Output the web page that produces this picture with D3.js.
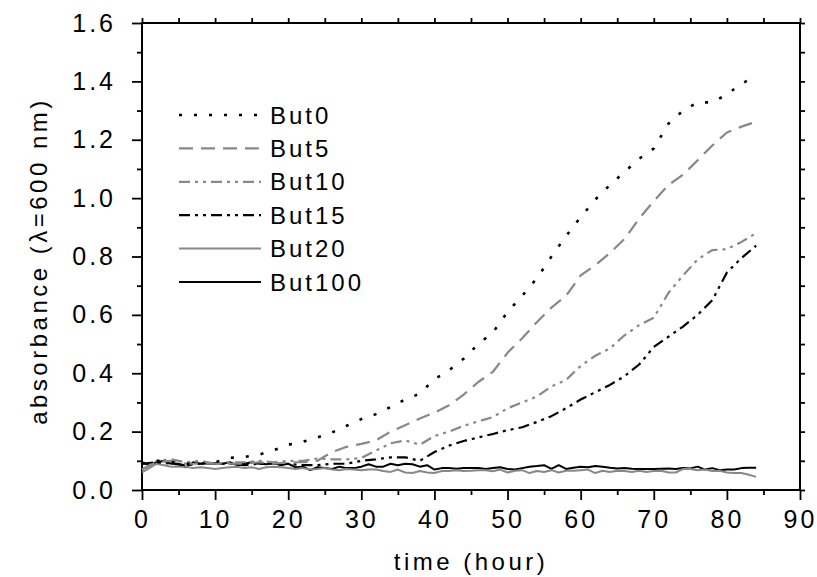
<!DOCTYPE html>
<html lang="en">
<head>
<meta charset="utf-8">
<title>absorbance vs time</title>
<script src="https://d3js.org/d3.v7.min.js"></script>
<style>
  body { margin: 0; background: #fff; }
  text { font-family: "Liberation Sans", Arial, sans-serif; fill: #000; }
</style>
</head>
<body>
<script>
var w = 817, h = 577;

// time grid for the smooth curves (every 2 h) and for the noisy ones (every 1 h)
var hours2 = [0,2,4,6,8,10,12,14,16,18,20,22,24,26,28,30,32,34,36,38,40,42,
              44,46,48,50,52,54,56,58,60,62,64,66,68,70,72,74,76,78,80,82,84];
var hours1 = [0,1,2,3,4,5,6,7,8,9,10,11,12,13,14,15,16,17,18,19,20,21,22,23,24,25,26,27,28,29,
              30,31,32,33,34,35,36,37,38,39,40,41,42,43,44,45,46,47,48,49,50,51,52,53,54,55,56,57,58,59,
              60,61,62,63,64,65,66,67,68,69,70,71,72,73,74,75,76,77,78,79,80,81,82,83,84];

var but0  = [0.09,0.10,0.095,0.09,0.09,0.095,0.11,0.113,0.121,0.136,0.155,0.165,0.18,0.197,0.22,0.243,
             0.26,0.284,0.31,0.33,0.38,0.41,0.45,0.50,0.54,0.61,0.665,0.725,0.80,0.87,0.935,0.995,
             1.045,1.09,1.135,1.17,1.255,1.30,1.328,1.328,1.355,1.392,1.418];
var but5  = [0.07,0.095,0.10,0.09,0.09,0.09,0.09,0.09,0.095,0.09,0.095,0.095,0.10,0.13,0.148,0.158,
             0.17,0.20,0.222,0.245,0.265,0.29,0.327,0.37,0.405,0.47,0.52,0.575,0.625,0.665,0.735,0.77,
             0.812,0.86,0.93,0.99,1.045,1.08,1.13,1.18,1.225,1.245,1.262];
var but10 = [0.07,0.10,0.105,0.095,0.10,0.09,0.095,0.095,0.10,0.095,0.10,0.10,0.108,0.105,0.105,0.11,
             0.135,0.16,0.17,0.155,0.185,0.20,0.22,0.235,0.25,0.28,0.30,0.32,0.355,0.377,0.425,0.46,
             0.485,0.53,0.565,0.59,0.675,0.735,0.79,0.822,0.825,0.85,0.88];
var but15 = [0.09,0.095,0.09,0.085,0.09,0.09,0.09,0.085,0.09,0.09,0.09,0.085,0.085,0.09,0.09,0.10,
             0.105,0.112,0.112,0.10,0.13,0.152,0.168,0.18,0.192,0.205,0.215,0.233,0.253,0.28,0.31,0.335,
             0.36,0.39,0.43,0.49,0.525,0.56,0.60,0.65,0.745,0.795,0.837];
var but20 = [0.06,0.075,0.09,0.085,0.08,0.08,0.08,0.075,0.078,0.075,0.072,0.075,0.078,0.08,0.075,0.078,
             0.072,0.078,0.08,0.078,0.075,0.072,0.075,0.07,0.072,0.075,0.07,0.068,0.072,0.07,0.068,0.07,
             0.07,0.065,0.062,0.07,0.06,0.058,0.065,0.06,0.058,0.065,0.065,0.068,0.065,0.066,0.068,0.068,
             0.064,0.07,0.06,0.066,0.068,0.058,0.065,0.062,0.068,0.06,0.066,0.066,0.068,0.07,0.058,0.066,
             0.062,0.066,0.065,0.062,0.066,0.062,0.065,0.066,0.06,0.06,0.072,0.072,0.068,0.07,0.065,0.066,
             0.06,0.058,0.058,0.052,0.045];
var but100 = [0.095,0.085,0.095,0.10,0.09,0.09,0.078,0.095,0.09,0.092,0.092,0.09,0.095,0.085,0.09,0.095,
              0.09,0.088,0.092,0.085,0.09,0.078,0.08,0.068,0.078,0.075,0.072,0.08,0.075,0.075,0.08,0.088,
              0.08,0.08,0.09,0.085,0.09,0.088,0.08,0.085,0.07,0.075,0.075,0.073,0.075,0.075,0.075,0.072,
              0.075,0.078,0.072,0.07,0.075,0.08,0.082,0.085,0.072,0.085,0.072,0.076,0.08,0.078,0.082,0.08,
              0.076,0.074,0.075,0.073,0.072,0.072,0.072,0.073,0.074,0.072,0.075,0.074,0.08,0.07,0.075,0.068,
              0.07,0.07,0.075,0.076,0.076];

var names = ["But0", "But5", "But10", "But15", "But20", "But100"];

var series = [
  {name: names[0], t: hours2, v: but0,  color: "#000",    dash: "3 12",  width: 2.6},
  {name: names[1], t: hours2, v: but5,  color: "#888",    dash: "14 8",  width: 2.2},
  {name: names[2], t: hours2, v: but10, color: "#888",    dash: "11 5 3 5 3 5", width: 2.2},
  {name: names[3], t: hours2, v: but15, color: "#000",    dash: "11 5 3 5 3 5", width: 2.2},
  {name: names[4], t: hours1, v: but20, color: "#888",    dash: null,    width: 2},
  {name: names[5], t: hours1, v: but100, color: "#000",   dash: null,    width: 2}
];

var x = d3.scaleLinear().domain([0, 90]).range([142, 800]);
var y = d3.scaleLinear().domain([0, 1.6]).range([490, 23]);

var svg = d3.select("body").append("svg")
    .attr("width", w)
    .attr("height", h);

// minor ticks first
svg.append("g")
    .attr("transform", "translate(0,490)")
    .call(d3.axisBottom(x).tickValues(d3.range(5, 90, 10)).tickSize(5).tickFormat(""))
    .call(function (g) { g.select(".domain").remove(); });
svg.append("g")
    .attr("transform", "translate(0,23)")
    .call(d3.axisTop(x).tickValues(d3.range(0, 91, 5)).tickSize(5).tickFormat(""))
    .call(function (g) { g.select(".domain").remove(); });
svg.append("g")
    .attr("transform", "translate(800,0)")
    .call(d3.axisRight(y).tickValues(d3.range(0, 1.61, 0.1)).tickSize(5).tickFormat(""))
    .call(function (g) { g.select(".domain").remove(); });
svg.append("g")
    .attr("transform", "translate(142,0)")
    .call(d3.axisLeft(y).tickValues(d3.range(0.1, 1.6, 0.2)).tickSize(5).tickFormat(""))
    .call(function (g) { g.select(".domain").remove(); });

// major ticks with labels
var xAxis = svg.append("g")
    .attr("transform", "translate(0,490)")
    .call(d3.axisBottom(x).tickValues(d3.range(0, 91, 10)).tickSize(10).tickPadding(10));
xAxis.select(".domain").remove();
xAxis.selectAll("text")
    .attr("font-size", 25)
    .attr("font-family", null)
    .attr("letter-spacing", "3px");

var yAxis = svg.append("g")
    .attr("transform", "translate(142,0)")
    .call(d3.axisLeft(y).tickValues(d3.range(0, 1.61, 0.2)).tickSize(10).tickPadding(16)
          .tickFormat(d3.format(".1f")));
yAxis.select(".domain").remove();
yAxis.selectAll("text")
    .attr("font-size", 25)
    .attr("font-family", null)
    .attr("letter-spacing", "3px");

svg.selectAll(".tick line").attr("stroke", "#000").attr("stroke-width", 1.8);

// frame
svg.append("rect")
    .attr("x", x(0)).attr("y", y(1.6))
    .attr("width", x(90) - x(0)).attr("height", y(0) - y(1.6))
    .attr("fill", "none").attr("stroke", "#000").attr("stroke-width", 2);

var line = d3.line()
    .x(function (d) { return x(d[0]); })
    .y(function (d) { return y(d[1]); });

svg.append("g").selectAll("path")
    .data(series.slice().reverse())
    .enter().append("path")
    .attr("d", function (s) { return line(d3.zip(s.t, s.v)); })
    .attr("fill", "none")
    .attr("stroke", function (s) { return s.color; })
    .attr("stroke-width", function (s) { return s.width; })
    .attr("stroke-dasharray", function (s) { return s.dash; })
    .attr("stroke-linejoin", "round");

// legend
var legend = svg.append("g").selectAll("g")
    .data(series)
    .enter().append("g")
    .attr("transform", function (s, i) { return "translate(0," + (115 + i * 33.4) + ")"; });

legend.append("line")
    .attr("x1", 179).attr("x2", 261)
    .attr("stroke", function (s) { return s.color; })
    .attr("stroke-width", function (s) { return s.width; })
    .attr("stroke-dasharray", function (s) { return s.dash; });

legend.append("text")
    .attr("x", 270)
    .attr("dy", "0.36em")
    .attr("font-size", 24)
    .attr("letter-spacing", "3px")
    .text(function (s) { return s.name; });

// axis titles
svg.append("text")
    .attr("x", 471).attr("y", 570)
    .attr("text-anchor", "middle")
    .attr("font-size", 24)
    .attr("letter-spacing", "3.5px")
    .text("time (hour)");

svg.append("text")
    .attr("transform", "translate(47,261) rotate(-90)")
    .attr("text-anchor", "middle")
    .attr("font-size", 24)
    .attr("letter-spacing", "3.5px")
    .text("absorbance (λ=600 nm)");
</script>
</body>
</html>
